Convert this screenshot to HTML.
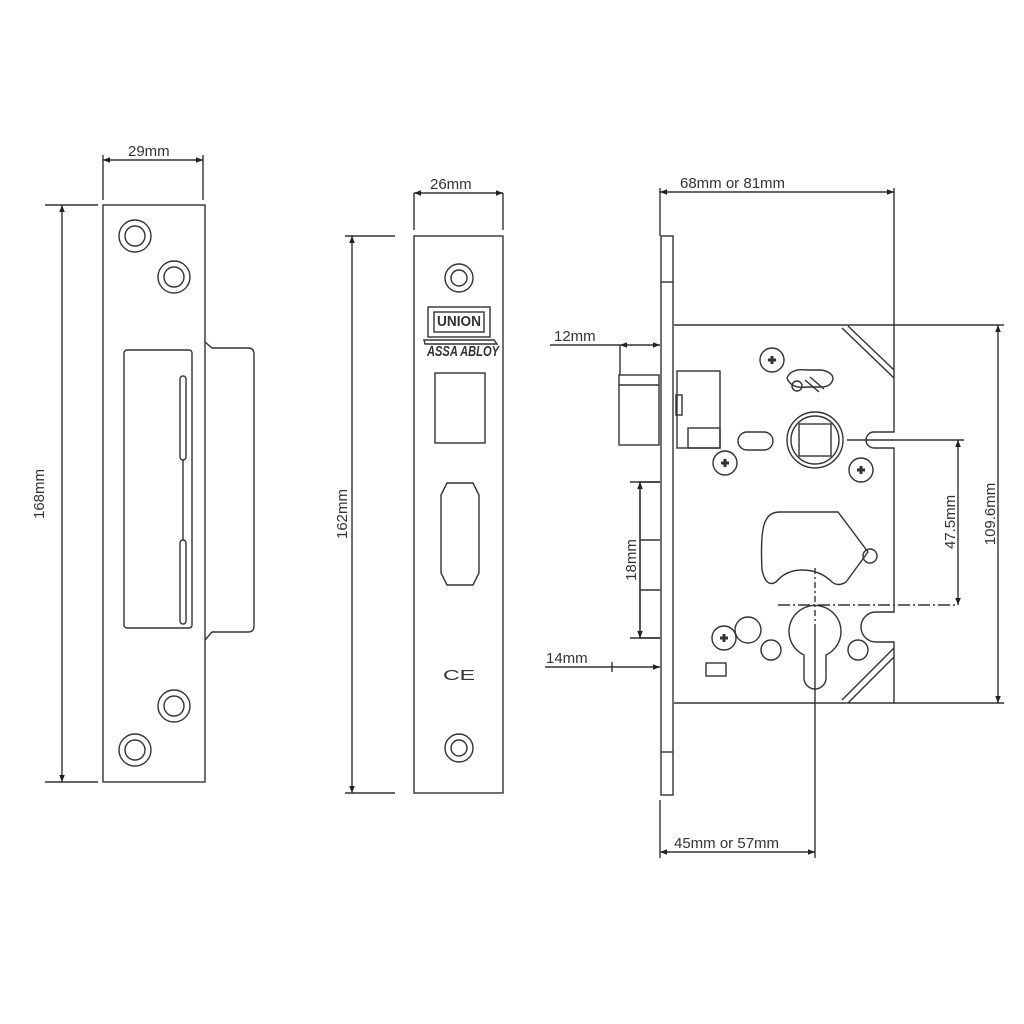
<!DOCTYPE html>
<html><head><meta charset="utf-8"><style>
html,body{margin:0;padding:0;background:#fff;}
svg{display:block;}
text{font-family:"Liberation Sans",sans-serif;fill:#333;font-size:15px;}
</style></head><body>
<svg width="1024" height="1024" viewBox="0 0 1024 1024" xmlns="http://www.w3.org/2000/svg">
<defs>
<marker id="a" viewBox="0 0 10 10" refX="10" refY="5" markerWidth="9" markerHeight="7" orient="auto-start-reverse" markerUnits="userSpaceOnUse"><path d="M0,1 L10,5 L0,9z" fill="#222"/></marker>
</defs>
<g fill="none" stroke="#333" stroke-width="1.4">
<rect x="103" y="205" width="102" height="577"/>
<path d="M205,342 l7,6 h36 q6,0 6,6 v272 q0,6 -6,6 h-36 l-7,8"/>
<rect x="124" y="350" width="68" height="278" rx="3"/>
<rect x="180" y="376" width="6" height="84" rx="3"/>
<rect x="180" y="540" width="6" height="84" rx="3"/>
<line x1="183" y1="460" x2="183" y2="540"/>
<circle cx="135" cy="236" r="16"/><circle cx="135" cy="236" r="10"/>
<circle cx="174" cy="277" r="16"/><circle cx="174" cy="277" r="10"/>
<circle cx="174" cy="706" r="16"/><circle cx="174" cy="706" r="10"/>
<circle cx="135" cy="750" r="16"/><circle cx="135" cy="750" r="10"/>
<line x1="103" y1="155" x2="103" y2="200"/><line x1="203" y1="155" x2="203" y2="200"/>
<line x1="103" y1="160" x2="203" y2="160" marker-start="url(#a)" marker-end="url(#a)"/>
<line x1="45" y1="205" x2="98" y2="205"/><line x1="45" y1="782" x2="98" y2="782"/>
<line x1="62" y1="205" x2="62" y2="782" marker-start="url(#a)" marker-end="url(#a)"/>

<rect x="414" y="236" width="89" height="557"/>
<circle cx="459" cy="278" r="14"/><circle cx="459" cy="278" r="8"/>
<circle cx="459" cy="748" r="14"/><circle cx="459" cy="748" r="8"/>
<rect x="428" y="307" width="62" height="30"/>
<rect x="434" y="312" width="50" height="20"/>
<path d="M424,340 h70 l3,4 h-72z"/>
<rect x="435" y="373" width="50" height="70"/>
<path d="M447,483 h26 l6,12 v78 l-6,12 h-26 l-6,-12 v-78z"/>
<line x1="414" y1="193" x2="414" y2="230"/><line x1="503" y1="193" x2="503" y2="230"/>
<line x1="414" y1="193" x2="503" y2="193" marker-start="url(#a)" marker-end="url(#a)"/>
<line x1="345" y1="236" x2="395" y2="236"/><line x1="345" y1="793" x2="395" y2="793"/>
<line x1="352" y1="236" x2="352" y2="793" marker-start="url(#a)" marker-end="url(#a)"/>

<rect x="661" y="236" width="12" height="559"/>
<line x1="661" y1="282" x2="673" y2="282"/><line x1="661" y1="752" x2="673" y2="752"/>
<path d="M674,325 H894 V432 h-20 a8,8 0 0 0 0,16 h20 V612 h-18 a15,15 0 0 0 0,30 h18 V703 H674"/>
<path d="M842,328 l52,50 M848,326 l46,44"/>
<path d="M842,700 l52,-52 M848,703 l46,-46"/>
<rect x="619" y="375" width="40" height="70"/>
<line x1="619" y1="385" x2="659" y2="385"/>
<rect x="677" y="371" width="43" height="77"/>
<rect x="688" y="428" width="32" height="20"/>
<rect x="676" y="395" width="6" height="20"/>
<path d="M660,482 H640 V638 H660 M640,540 H660 M640,590 H660"/>
<circle cx="815" cy="440" r="28"/><circle cx="815" cy="440" r="24"/>
<rect x="799" y="424" width="32" height="32"/>
<rect x="738" y="432" width="35" height="18" rx="9"/>
<path d="M787,378 q4,-10 20,-8 h14 q12,2 12,9 q-2,8 -12,8 h-14 q-16,2 -20,-9z"/>
<circle cx="797" cy="386" r="5"/>
<path d="M805,380 l14,12 M810,377 l14,12"/>
<circle cx="772" cy="360" r="12"/><circle cx="725" cy="463" r="12"/>
<circle cx="861" cy="470" r="12"/><circle cx="724" cy="638" r="12"/>
<path d="M768,360 h8 M772,356 v8 M721,463 h8 M725,459 v8 M857,470 h8 M861,466 v8 M720,638 h8 M724,634 v8" stroke-width="3"/>
<circle cx="748" cy="630" r="13"/><circle cx="771" cy="650" r="10"/><circle cx="858" cy="650" r="10"/>
<rect x="706" y="663" width="20" height="13"/>
<path d="M780,512 h58 l30,40 l-22,30 q-8,5 -14,0 q-12,-12 -30,-12 q-16,0 -26,12 q-10,6 -14,-12 q-2,-40 4,-50 q4,-8 14,-8z"/>
<circle cx="870" cy="556" r="7"/>
<path d="M804,678 V655 a26,26 0 1 1 22,0 V678 a11,11 0 0 1 -22,0z"/>
<line x1="815" y1="568" x2="815" y2="630" stroke-dasharray="6,3,2,3"/>
<line x1="778" y1="605" x2="958" y2="605" stroke-dasharray="12,3,2,3"/>
<line x1="815" y1="630" x2="815" y2="858"/>
<line x1="660" y1="188" x2="660" y2="236"/><line x1="894" y1="188" x2="894" y2="325"/>
<line x1="660" y1="192" x2="894" y2="192" marker-start="url(#a)" marker-end="url(#a)"/>
<line x1="894" y1="325" x2="1004" y2="325"/><line x1="894" y1="703" x2="1004" y2="703"/>
<line x1="998" y1="325" x2="998" y2="703" marker-start="url(#a)" marker-end="url(#a)"/>
<line x1="847" y1="440" x2="964" y2="440"/>
<line x1="958" y1="440" x2="958" y2="605" marker-start="url(#a)" marker-end="url(#a)"/>
<line x1="620" y1="345" x2="620" y2="375"/>
<line x1="550" y1="345" x2="620" y2="345"/>
<line x1="620" y1="345" x2="660" y2="345" marker-start="url(#a)" marker-end="url(#a)"/>
<line x1="545" y1="667" x2="660" y2="667" marker-end="url(#a)"/>
<line x1="612" y1="662" x2="612" y2="672"/>
<line x1="630" y1="482" x2="660" y2="482"/><line x1="630" y1="638" x2="660" y2="638"/>
<line x1="640" y1="482" x2="640" y2="638" marker-start="url(#a)" marker-end="url(#a)"/>
<line x1="660" y1="800" x2="660" y2="858"/>
<line x1="660" y1="852" x2="815" y2="852" marker-start="url(#a)" marker-end="url(#a)"/>
</g>
<text x="128" y="156">29mm</text>
<text x="430" y="189">26mm</text>
<text x="680" y="188">68mm or 81mm</text>
<text x="554" y="341">12mm</text>
<text x="546" y="663">14mm</text>
<text x="674" y="848">45mm or 57mm</text>
<text font-size="7" x="427" y="356" font-weight="bold" font-style="italic" textLength="72" lengthAdjust="spacingAndGlyphs">ASSA ABLOY</text>
<text font-size="11" x="437" y="326" font-weight="bold" textLength="44" lengthAdjust="spacingAndGlyphs">UNION</text>
<text font-size="26" x="443" y="680" textLength="32" lengthAdjust="spacingAndGlyphs">CE</text>
<text transform="translate(44,494) rotate(-90)" text-anchor="middle">168mm</text>
<text transform="translate(347,514) rotate(-90)" text-anchor="middle">162mm</text>
<text transform="translate(636,560) rotate(-90)" text-anchor="middle">18mm</text>
<text transform="translate(955,522) rotate(-90)" text-anchor="middle">47.5mm</text>
<text transform="translate(995,514) rotate(-90)" text-anchor="middle">109.6mm</text>
</svg>
</body></html>
